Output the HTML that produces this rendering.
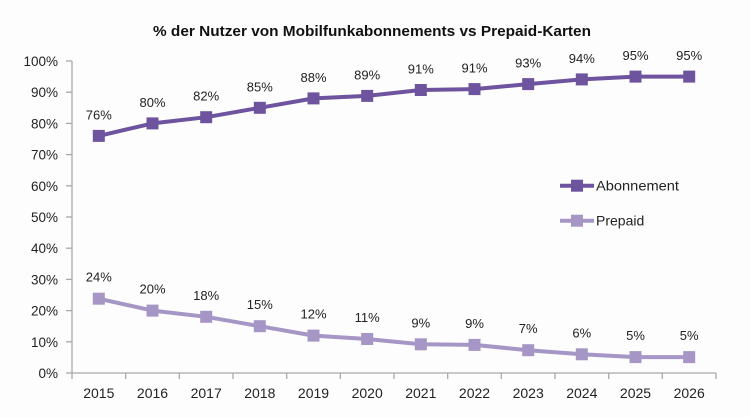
<!DOCTYPE html>
<html>
<head>
<meta charset="utf-8">
<style>
  html,body{margin:0;padding:0;background:#fdfdfd;}
  svg{display:block;font-family:"Liberation Sans",sans-serif;}
</style>
</head>
<body>
<svg width="750" height="417" viewBox="0 0 750 417" xmlns="http://www.w3.org/2000/svg">
  <rect x="0" y="0" width="750" height="417" fill="#fdfdfd"/>
  <!-- Title -->
  <text x="372" y="36" text-anchor="middle" font-size="14.5" font-weight="bold" fill="#111" textLength="438" lengthAdjust="spacingAndGlyphs">% der Nutzer von Mobilfunkabonnements vs Prepaid-Karten</text>

  <!-- Axes -->
  <g stroke="#a8a8a8" stroke-width="1.3" fill="none">
    <line x1="72" y1="61" x2="72" y2="373"/>
    <line x1="72" y1="373" x2="716" y2="373"/>
    <line x1="66" y1="61" x2="72" y2="61"/>
    <line x1="66" y1="92.2" x2="72" y2="92.2"/>
    <line x1="66" y1="123.4" x2="72" y2="123.4"/>
    <line x1="66" y1="154.6" x2="72" y2="154.6"/>
    <line x1="66" y1="185.8" x2="72" y2="185.8"/>
    <line x1="66" y1="217" x2="72" y2="217"/>
    <line x1="66" y1="248.2" x2="72" y2="248.2"/>
    <line x1="66" y1="279.4" x2="72" y2="279.4"/>
    <line x1="66" y1="310.6" x2="72" y2="310.6"/>
    <line x1="66" y1="341.8" x2="72" y2="341.8"/>
    <line x1="66" y1="373" x2="72" y2="373"/>
    <line x1="72" y1="373" x2="72" y2="379"/>
    <line x1="125.7" y1="373" x2="125.7" y2="379"/>
    <line x1="179.3" y1="373" x2="179.3" y2="379"/>
    <line x1="233" y1="373" x2="233" y2="379"/>
    <line x1="286.7" y1="373" x2="286.7" y2="379"/>
    <line x1="340.3" y1="373" x2="340.3" y2="379"/>
    <line x1="394" y1="373" x2="394" y2="379"/>
    <line x1="447.7" y1="373" x2="447.7" y2="379"/>
    <line x1="501.3" y1="373" x2="501.3" y2="379"/>
    <line x1="555" y1="373" x2="555" y2="379"/>
    <line x1="608.7" y1="373" x2="608.7" y2="379"/>
    <line x1="662.3" y1="373" x2="662.3" y2="379"/>
    <line x1="716" y1="373" x2="716" y2="379"/>
  </g>

  <!-- Y labels -->
  <g font-size="13.5" fill="#222" text-anchor="end">
    <text x="58" y="66">100%</text>
    <text x="58" y="97.2">90%</text>
    <text x="58" y="128.4">80%</text>
    <text x="58" y="159.6">70%</text>
    <text x="58" y="190.8">60%</text>
    <text x="58" y="222">50%</text>
    <text x="58" y="253.2">40%</text>
    <text x="58" y="284.4">30%</text>
    <text x="58" y="315.6">20%</text>
    <text x="58" y="346.8">10%</text>
    <text x="58" y="378">0%</text>
  </g>

  <!-- X labels -->
  <g font-size="14" fill="#222" text-anchor="middle">
    <text x="98.8" y="398">2015</text>
    <text x="152.5" y="398">2016</text>
    <text x="206.2" y="398">2017</text>
    <text x="259.8" y="398">2018</text>
    <text x="313.5" y="398">2019</text>
    <text x="367.2" y="398">2020</text>
    <text x="420.8" y="398">2021</text>
    <text x="474.5" y="398">2022</text>
    <text x="528.2" y="398">2023</text>
    <text x="581.8" y="398">2024</text>
    <text x="635.5" y="398">2025</text>
    <text x="689.2" y="398">2026</text>
  </g>

  <!-- Abonnement series -->
  <polyline fill="none" stroke="#6e539e" stroke-width="4" stroke-linejoin="round"
    points="98.8,135.9 152.5,123.4 206.2,117.2 259.8,107.8 313.5,98.4 367.2,95.9 420.8,90 474.5,89.1 528.2,84.1 581.8,79.4 635.5,76.6 689.2,76.6"/>
  <g fill="#6e539e">
    <rect x="92.8" y="129.9" width="12" height="12"/>
    <rect x="146.5" y="117.4" width="12" height="12"/>
    <rect x="200.2" y="111.2" width="12" height="12"/>
    <rect x="253.8" y="101.8" width="12" height="12"/>
    <rect x="307.5" y="92.4" width="12" height="12"/>
    <rect x="361.2" y="89.9" width="12" height="12"/>
    <rect x="414.8" y="84" width="12" height="12"/>
    <rect x="468.5" y="83.1" width="12" height="12"/>
    <rect x="522.2" y="78.1" width="12" height="12"/>
    <rect x="575.8" y="73.4" width="12" height="12"/>
    <rect x="629.5" y="70.6" width="12" height="12"/>
    <rect x="683.2" y="70.6" width="12" height="12"/>
  </g>
  <g font-size="13" fill="#222" text-anchor="middle">
    <text x="98.8" y="119.4">76%</text>
    <text x="152.5" y="106.9">80%</text>
    <text x="206.2" y="100.7">82%</text>
    <text x="259.8" y="91.3">85%</text>
    <text x="313.5" y="81.9">88%</text>
    <text x="367.2" y="79.4">89%</text>
    <text x="420.8" y="73.5">91%</text>
    <text x="474.5" y="72.6">91%</text>
    <text x="528.2" y="67.6">93%</text>
    <text x="581.8" y="62.9">94%</text>
    <text x="635.5" y="60.1">95%</text>
    <text x="689.2" y="60.1">95%</text>
  </g>

  <!-- Prepaid series -->
  <polyline fill="none" stroke="#a696c6" stroke-width="4" stroke-linejoin="round"
    points="98.8,298.7 152.5,310.6 206.2,316.8 259.8,326.2 313.5,335.6 367.2,339 420.8,344.3 474.5,344.9 528.2,350.2 581.8,354.3 635.5,357.1 689.2,357.1"/>
  <g fill="#a696c6">
    <rect x="92.8" y="292.7" width="12" height="12"/>
    <rect x="146.5" y="304.6" width="12" height="12"/>
    <rect x="200.2" y="310.8" width="12" height="12"/>
    <rect x="253.8" y="320.2" width="12" height="12"/>
    <rect x="307.5" y="329.6" width="12" height="12"/>
    <rect x="361.2" y="333" width="12" height="12"/>
    <rect x="414.8" y="338.3" width="12" height="12"/>
    <rect x="468.5" y="338.9" width="12" height="12"/>
    <rect x="522.2" y="344.2" width="12" height="12"/>
    <rect x="575.8" y="348.3" width="12" height="12"/>
    <rect x="629.5" y="351.1" width="12" height="12"/>
    <rect x="683.2" y="351.1" width="12" height="12"/>
  </g>
  <g font-size="13" fill="#222" text-anchor="middle">
    <text x="98.8" y="281.7">24%</text>
    <text x="152.5" y="293.6">20%</text>
    <text x="206.2" y="299.8">18%</text>
    <text x="259.8" y="309.2">15%</text>
    <text x="313.5" y="318.6">12%</text>
    <text x="367.2" y="322">11%</text>
    <text x="420.8" y="327.3">9%</text>
    <text x="474.5" y="327.9">9%</text>
    <text x="528.2" y="333.2">7%</text>
    <text x="581.8" y="337.3">6%</text>
    <text x="635.5" y="340.1">5%</text>
    <text x="689.2" y="340.1">5%</text>
  </g>

  <!-- Legend -->
  <line x1="560" y1="185.7" x2="594" y2="185.7" stroke="#6e539e" stroke-width="4"/>
  <rect x="571" y="179.7" width="12" height="12" fill="#6e539e"/>
  <text x="596" y="190.7" font-size="14" fill="#222" textLength="83" lengthAdjust="spacingAndGlyphs">Abonnement</text>
  <line x1="560" y1="220.7" x2="594" y2="220.7" stroke="#a696c6" stroke-width="4"/>
  <rect x="571" y="214.7" width="12" height="12" fill="#a696c6"/>
  <text x="596" y="225.7" font-size="14" fill="#222">Prepaid</text>
</svg>
</body>
</html>
